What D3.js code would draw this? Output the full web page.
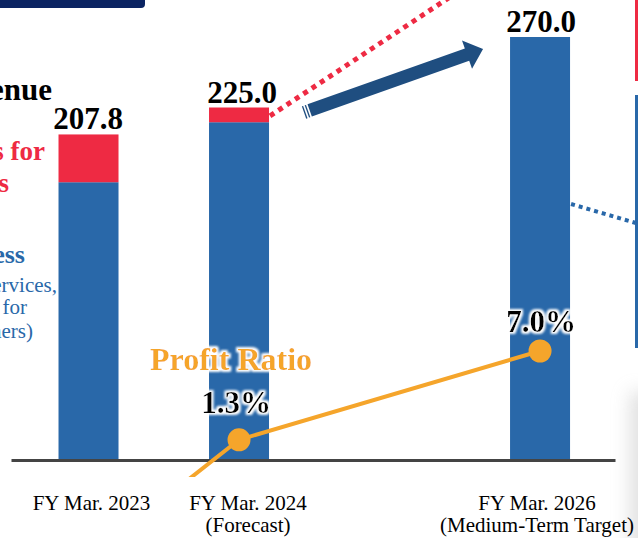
<!DOCTYPE html>
<html>
<head>
<meta charset="utf-8">
<script src="https://cdn.jsdelivr.net/npm/d3@7"></script>
<style>
  html, body { margin: 0; padding: 0; background: #fff; overflow: hidden; }
  svg { display: block; }
</style>
</head>
<body>
<svg id="chart" width="638" height="538"></svg>
<script>
// Fiscal years shown on the axis
const years = [2023, 2024, 2026];
const categoryLabels = ["FY Mar. 2023", "FY Mar. 2024", "FY Mar. 2026"];
const categoryNotes = ["", "(Forecast)", "(Medium-Term Target)"];

// Revenue (total) and the consumer-products part of it
const totalRevenue = [207.8, 225.0, 270.0];
const consumerRevenue = [30.5, 9.4, 0];
const revenueLabels = ["207.8", "225.0", "270.0"];

// Profit ratio (%)
const profitRatio = [-6.3, 1.3, 7.0];
const profitLabels = [null, "1.3%", "7.0%"];

const COLORS = {
  blue: "#2968a9",
  red: "#ee2a43",
  orange: "#f5a52b",
  navy: "#1f4e80",
  axis: "#444444",
  topbar: "#0b2462"
};
const SERIF = "'Liberation Serif', 'Times New Roman', serif";

const svg = d3.select("#chart");
const defs = svg.append("defs");

// Soft white halo behind labels
const glow = defs.append("filter").attr("id", "halo")
  .attr("x", "-20%").attr("y", "-30%").attr("width", "140%").attr("height", "160%");
glow.append("feMorphology").attr("in", "SourceAlpha").attr("operator", "dilate").attr("radius", 1.6).attr("result", "thick");
glow.append("feGaussianBlur").attr("in", "thick").attr("stdDeviation", 1.1).attr("result", "soft");
glow.append("feFlood").attr("flood-color", "#ffffff").attr("result", "white");
glow.append("feComposite").attr("in", "white").attr("in2", "soft").attr("operator", "in").attr("result", "haloShape");
const merge = glow.append("feMerge");
merge.append("feMergeNode").attr("in", "haloShape");
merge.append("feMergeNode").attr("in", "SourceGraphic");

// Shadow of an overlapping panel at the lower right
const shadow = defs.append("filter").attr("id", "panelShadow")
  .attr("x", "-100%").attr("y", "-50%").attr("width", "300%").attr("height", "200%");
shadow.append("feGaussianBlur").attr("stdDeviation", 9);

// Clip for the profit-ratio line (hidden below the axis label area)
defs.append("clipPath").attr("id", "lineClip")
  .append("rect").attr("x", 0).attr("y", 0).attr("width", 638).attr("height", 477);

// Scales
const x = d3.scaleLinear().domain([2022.485, 2026.498]).range([11, 615]);
const y = d3.scaleLinear().domain([0, 270]).range([460, 37]);
const yPct = d3.scaleLinear().domain([0, 7]).range([460, 351]);
const barW = 60;

const data = years.map((yr, i) => ({
  year: yr,
  label: categoryLabels[i],
  note: categoryNotes[i],
  total: totalRevenue[i],
  consumer: consumerRevenue[i],
  base: totalRevenue[i] - consumerRevenue[i],
  revLabel: revenueLabels[i],
  ratio: profitRatio[i],
  ratioLabel: profitLabels[i]
}));

// Top title bar edge
svg.append("rect").attr("x", -10).attr("y", -10).attr("width", 155).attr("height", 18)
  .attr("rx", 4).attr("fill", COLORS.topbar);

// Panel shadow
svg.append("rect").attr("x", 630).attr("y", 392).attr("width", 40).attr("height", 200)
  .attr("fill", "#c8c8c8").attr("opacity", 0.55).attr("filter", "url(#panelShadow)");

// Right-side bracket edges
svg.append("line").attr("x1", 636.5).attr("x2", 636.5).attr("y1", 0).attr("y2", 81)
  .attr("stroke", COLORS.red).attr("stroke-width", 3);
svg.append("line").attr("x1", 636.5).attr("x2", 636.5).attr("y1", 95).attr("y2", 348)
  .attr("stroke", COLORS.blue).attr("stroke-width", 3);

// Left legend (runs past the left edge)
const legend = svg.append("g").attr("font-family", SERIF).attr("text-anchor", "end");
legend.append("text").attr("x", 52).attr("y", 100).attr("font-size", 31).attr("font-weight", "bold")
  .attr("fill", "#000").text("Revenue");
legend.append("text").attr("x", 45).attr("y", 160).attr("font-size", 27).attr("font-weight", "bold")
  .attr("fill", COLORS.red).text("Products for");
legend.append("text").attr("x", 9).attr("y", 192).attr("font-size", 27).attr("font-weight", "bold")
  .attr("fill", COLORS.red).text("Consumers");
legend.append("text").attr("x", 25).attr("y", 263).attr("font-size", 26).attr("font-weight", "bold")
  .attr("fill", COLORS.blue).text("B2B Business");
legend.append("text").attr("x", 57).attr("y", 292).attr("font-size", 21)
  .attr("fill", COLORS.blue).text("(IT Services,");
legend.append("text").attr("x", 27).attr("y", 314).attr("font-size", 21)
  .attr("fill", COLORS.blue).text("Products for");
legend.append("text").attr("x", 33).attr("y", 338).attr("font-size", 21)
  .attr("fill", COLORS.blue).text("Customers)");

// Bars: B2B part (blue) and consumer part (red) stacked
const bars = svg.append("g");
bars.selectAll("rect.base").data(data).join("rect").attr("class", "base")
  .attr("x", d => x(d.year) - barW / 2).attr("width", barW)
  .attr("y", d => y(d.base)).attr("height", d => y(0) - y(d.base))
  .attr("fill", COLORS.blue);
bars.selectAll("rect.cons").data(data.filter(d => d.consumer > 0)).join("rect").attr("class", "cons")
  .attr("x", d => x(d.year) - barW / 2).attr("width", barW)
  .attr("y", d => y(d.total)).attr("height", d => y(d.base) - y(d.total))
  .attr("fill", COLORS.red);

// Dotted connectors
const d24 = data[1], d26 = data[2];
const redStart = [x(d24.year) + barW / 2 + 1, (y(d24.total) + y(d24.base)) / 2 + 1];
svg.append("line")
  .attr("x1", redStart[0]).attr("y1", redStart[1])
  .attr("x2", redStart[0] + 190).attr("y2", redStart[1] - 190 * 0.66)
  .attr("stroke", COLORS.red).attr("stroke-width", 5).attr("stroke-dasharray", "5 5");
svg.append("line")
  .attr("x1", x(d26.year) + barW / 2 + 1).attr("y1", 204)
  .attr("x2", 636).attr("y2", 223)
  .attr("stroke", COLORS.blue).attr("stroke-width", 4).attr("stroke-dasharray", "4 4");

// Growth arrow from the forecast bar towards the target bar
const tail = [x(d24.year) + 65, y(d24.total) + 5];
const tip = [x(d26.year) - 57, y(d26.total) + 12];
const ang = Math.atan2(tip[1] - tail[1], tip[0] - tail[0]) * 180 / Math.PI;
const len = Math.hypot(tip[0] - tail[0], tip[1] - tail[1]);
const arrow = svg.append("g")
  .attr("transform", `translate(${tail[0]},${tail[1]}) rotate(${ang})`)
  .attr("fill", COLORS.navy);
const hw = 6.5, headLen = 17, headHW = 15;
arrow.append("polygon").attr("points", [
  [6, -hw], [len - headLen, -hw], [len - headLen, -headHW], [len, 0],
  [len - headLen, headHW], [len - headLen, hw], [6, hw]
].map(p => p.join(",")).join(" "));
arrow.append("rect").attr("x", 0).attr("y", -hw).attr("width", 1.4).attr("height", hw * 2);
arrow.append("rect").attr("x", 3).attr("y", -hw).attr("width", 1.4).attr("height", hw * 2);

// Axis
const axis = d3.axisBottom(x).tickValues(years).tickSize(0).tickSizeOuter(0).tickFormat("");
const axisG = svg.append("g").attr("transform", `translate(0,${y(0)})`).call(axis);
axisG.select(".domain").attr("stroke", COLORS.axis).attr("stroke-width", 3);

const labelNudge = [3, 9, -3];
const catLabels = svg.append("g").attr("font-family", SERIF).attr("font-size", 21)
  .attr("fill", "#000").attr("text-anchor", "middle");
data.forEach((d, i) => {
  const cx = x(d.year) + labelNudge[i];
  catLabels.append("text").attr("x", cx).attr("y", 510).text(d.label);
  if (d.note) catLabels.append("text").attr("x", cx).attr("y", 532).text(d.note);
});

// Profit ratio line
const line = d3.line().x(d => x(d.year)).y(d => yPct(d.ratio));
svg.append("path").datum(data).attr("d", line)
  .attr("fill", "none").attr("stroke", COLORS.orange).attr("stroke-width", 4)
  .attr("clip-path", "url(#lineClip)");
svg.selectAll("circle.pt").data(data.filter(d => d.ratioLabel)).join("circle").attr("class", "pt")
  .attr("cx", d => x(d.year)).attr("cy", d => yPct(d.ratio)).attr("r", 11.5)
  .attr("fill", COLORS.orange);

// Value labels
const valueLabels = svg.append("g").attr("font-family", SERIF).attr("font-weight", "bold")
  .attr("font-size", 31).attr("text-anchor", "middle").attr("fill", "#000");
const revNudge = [-0.5, 3, 1];
data.forEach((d, i) => {
  valueLabels.append("text").attr("x", x(d.year) + revNudge[i]).attr("y", y(d.total) - 5).text(d.revLabel);
});
const pctNudge = [[0, 0], [-3, -27], [1, -19]];
data.forEach((d, i) => {
  if (!d.ratioLabel) return;
  valueLabels.append("text")
    .attr("x", x(d.year) + pctNudge[i][0]).attr("y", yPct(d.ratio) + pctNudge[i][1])
    .attr("filter", "url(#halo)").text(d.ratioLabel);
});

// Series title for the line
svg.append("text").attr("x", 150).attr("y", 370)
  .attr("font-family", SERIF).attr("font-weight", "bold").attr("font-size", 32)
  .attr("fill", COLORS.orange).attr("filter", "url(#halo)").text("Profit Ratio");
</script>
</body>
</html>
